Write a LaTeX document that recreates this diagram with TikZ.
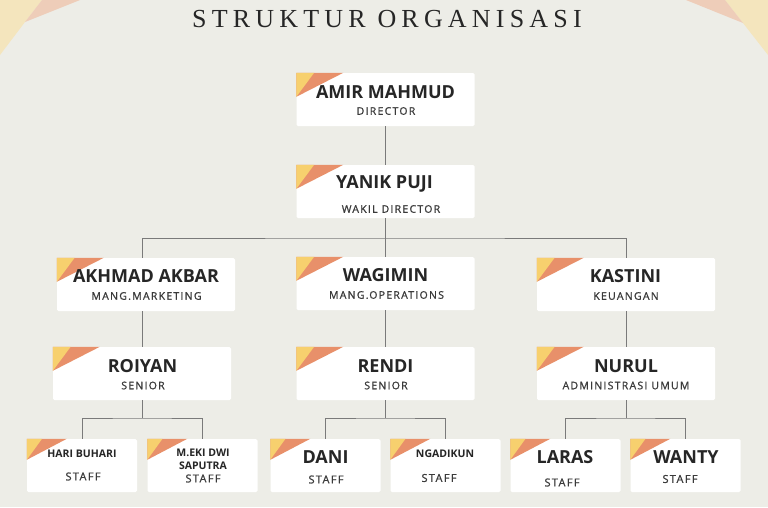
\documentclass[tikz,border=0pt]{standalone}
\usepackage{fontspec}
\setmainfont{Open Sans}
\newfontfamily\titlefont[LetterSpace=20]{Liberation Serif}
\newfontfamily\rolefont[LetterSpace=12,FakeBold=1]{Open Sans}
\definecolor{bgcol}{HTML}{EDEDE7}
\definecolor{linegray}{HTML}{7A7A7A}
\definecolor{decoyellow}{HTML}{F7D06E}
\definecolor{decoorange}{HTML}{E8906A}
\definecolor{bgyellow}{HTML}{F4E5BD}
\definecolor{bgpeach}{HTML}{EECDB9}
\definecolor{namecol}{HTML}{262626}
\definecolor{rolecol}{HTML}{3A3A3A}
\newcommand\cornerdeco[3]{%
  \fill[decoorange] (#1.north west) -- ++(#2,0) -- ++(-#2,#3) -- cycle;
  \fill[decoyellow] (#1.north west) -- ++(0.38*#2,0) -- ++(-0.38*#2,#3) -- cycle;}
\begin{document}
\begin{tikzpicture}[x=1pt,y=-1pt,
  card/.style={fill=white, rounded corners=1.5pt, inner sep=0pt, minimum height=53pt},
  bigcard/.style={card, minimum width=178pt},
  smallcard/.style={card, minimum width=110pt},
  conn/.style={draw=linegray, line width=0.9pt},
  bigname/.style={inner sep=0pt, text=namecol, font=\fontsize{18}{18}\selectfont\bfseries},
  smallname/.style={inner sep=0pt, text=namecol, font=\fontsize{10.5}{12.5}\selectfont\bfseries, align=center},
  role/.style={inner sep=0pt, text=rolecol, font=\rolefont\fontsize{10.5}{10.5}\selectfont},
  staff/.style={inner sep=0pt, text=rolecol, font=\rolefont\fontsize{11}{11}\selectfont}]
\useasboundingbox (0,0) rectangle (768,507);
\fill[bgcol] (0,0) rectangle (768,507);
% corner decorations
\fill[bgyellow] (0,0) -- (42,0) -- (25,22) -- (0,55) -- cycle;
\fill[bgpeach] (42,0) -- (80,0) -- (25,22) -- cycle;
\fill[bgyellow] (725,0) -- (768,0) -- (768,55) -- (743,23) -- cycle;
\fill[bgpeach] (686,0) -- (725,0) -- (743,23) -- cycle;
% title
\node[inner sep=0pt, text=namecol, font=\titlefont\fontsize{26}{26}\selectfont] (title) at (387,19.5) {STRUKTUR ORGANISASI};

% cards
\node[bigcard] (amir) at (385.5,99.5) {};
\node[bigcard] (yanik) at (385.5,191.5) {};
\node[bigcard] (akhmad) at (146,284.5) {};
\node[bigcard] (wagimin) at (385.5,283.5) {};
\node[bigcard] (kastini) at (626,284.5) {};
\node[bigcard] (roiyan) at (142,373.5) {};
\node[bigcard] (rendi) at (385.5,373.5) {};
\node[bigcard] (nurul) at (626,373.5) {};
\node[smallcard] (hari) at (82,465.5) {};
\node[smallcard] (meki) at (202.5,465.5) {};
\node[smallcard] (dani) at (325.5,465.5) {};
\node[smallcard] (ngadikun) at (445.5,465.5) {};
\node[smallcard] (laras) at (565.5,465.5) {};
\node[smallcard] (wanty) at (685.5,465.5) {};

\foreach \c in {amir,yanik,akhmad,wagimin,kastini,roiyan,rendi,nurul}{\cornerdeco{\c}{47}{24}}
\foreach \c in {hari,meki,dani,ngadikun,laras,wanty}{\cornerdeco{\c}{40}{21}}

% connectors
\coordinate (j1) at (385.5,238);
\coordinate (j2) at (142,418);
\coordinate (j3) at (385.5,418);
\coordinate (j4) at (626,418);
\draw[conn] (amir.south) -- (yanik.north);
\draw[conn] (yanik.south) -- (j1);
\draw[conn] (akhmad.north -| 142,0) |- (j1) -| (kastini.north);
\draw[conn] (j1) -- (wagimin.north);
\draw[conn] (akhmad.south -| 142,0) -- (roiyan.north);
\draw[conn] (wagimin.south) -- (rendi.north);
\draw[conn] (kastini.south) -- (nurul.north);
\draw[conn] (roiyan.south) -- (j2);
\draw[conn] (hari.north) |- (j2) -| (meki.north);
\draw[conn] (rendi.south) -- (j3);
\draw[conn] (dani.north) |- (j3) -| (ngadikun.north);
\draw[conn] (nurul.south) -- (j4);
\draw[conn] (laras.north) |- (j4) -| (wanty.north);

% texts
\node[bigname] (amirN) at (385.5,92) {AMIR MAHMUD};
\node[role] (amirR) at (386,111) {DIRECTOR};
\node[bigname] (yanikN) at (384.5,184) {YANIK PUJI};
\node[role] (yanikR) at (391,209) {WAKIL DIRECTOR};
\node[bigname] (akhmadN) at (146,276) {AKHMAD AKBAR};
\node[role] (akhmadR) at (146.5,296) {MANG.MARKETING};
\node[bigname] (wagiminN) at (385.5,275.5) {WAGIMIN};
\node[role] (wagiminR) at (386.5,295) {MANG.OPERATIONS};
\node[bigname] (kastiniN) at (625.5,276) {KASTINI};
\node[role] (kastiniR) at (626,296) {KEUANGAN};
\node[bigname] (roiyanN) at (142.5,366) {ROIYAN};
\node[role] (roiyanR) at (143,385.5) {SENIOR};
\node[bigname] (rendiN) at (385.5,366) {RENDI};
\node[role] (rendiR) at (386,385.5) {SENIOR};
\node[bigname] (nurulN) at (626,366) {NURUL};
\node[role] (nurulR) at (626,385.5) {ADMINISTRASI UMUM};
\node[smallname] (hariN) at (82,453.5) {HARI BUHARI};
\node[staff] (hariR) at (83,476.5) {STAFF};
\node[smallname] (mekiN) at (203,459.5) {M.EKI DWI\\SAPUTRA};
\node[staff] (mekiR) at (203,478.5) {STAFF};
\node[bigname] (daniN) at (325.5,457.5) {DANI};
\node[staff] (daniR) at (326,479.5) {STAFF};
\node[smallname] (ngadikunN) at (445,453.5) {NGADIKUN};
\node[staff] (ngadikunR) at (439,478) {STAFF};
\node[bigname] (larasN) at (565,457.5) {LARAS};
\node[staff] (larasR) at (562,482.5) {STAFF};
\node[bigname] (wantyN) at (686,457.5) {WANTY};
\node[staff] (wantyR) at (680,479) {STAFF};
\end{tikzpicture}
\end{document}
